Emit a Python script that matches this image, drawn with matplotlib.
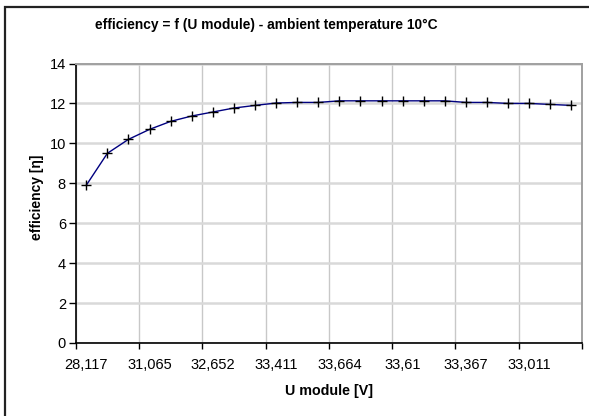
import matplotlib
matplotlib.use('Agg')
import matplotlib.pyplot as plt
from matplotlib.patches import Rectangle
import numpy as np

plt.rcParams['font.family'] = ['Liberation Sans', 'DejaVu Sans']

# U module [V] per measurement (only every 3rd label shown on the axis)
u_module = ['28,117', '29,3', '30,3', '31,065', '31,6', '32,2', '32,652', '32,95',
            '33,2', '33,411', '33,53', '33,62', '33,664', '33,68', '33,66', '33,61',
            '33,54', '33,46', '33,367', '33,25', '33,14', '33,011', '32,87', '32,72']
efficiency = [7.9, 9.5, 10.2, 10.7, 11.1, 11.37, 11.57, 11.77, 11.9, 12.02, 12.05, 12.05,
              12.13, 12.13, 12.13, 12.13, 12.13, 12.13, 12.05, 12.05, 12.0, 12.0, 11.95, 11.9]

fig = plt.figure(figsize=(5.89, 4.16), dpi=100)
ax = fig.add_axes([75.7/589, 1-343/416, (582-75.7)/589, (343-63.5)/416])

# outer chart border (cut off at right/bottom like the reference)
fig.patches.append(Rectangle((5/589, -0.05), 1.2, 1-7/416+0.05, transform=fig.transFigure,
                             fill=False, edgecolor='#222222', linewidth=1.6))

x = np.arange(len(efficiency))
ax.plot(x, efficiency, color='#000080', linewidth=1.0, marker='+', markersize=7,
        markeredgecolor='black', markeredgewidth=1.0, zorder=3)

ax.set_xlim(-0.5, len(efficiency) - 0.5)
ax.set_ylim(0, 14)
ax.set_yticks(np.arange(0, 15, 2))
ax.set_xticks(np.arange(-0.5, len(efficiency), 3))
ax.set_xticklabels([])
ax.set_xticks(x[::3], minor=True)
ax.set_xticklabels(u_module[::3], minor=True)
ax.tick_params(axis='x', which='minor', length=0, pad=11, labelsize=10.5)
ax.tick_params(axis='x', which='major', length=4, width=1, direction='out', color='black')
ax.tick_params(axis='y', length=5, width=1, direction='out', labelsize=10.5, pad=2)

ax.grid(axis='y', color='#d9d9d9', linewidth=1.8, zorder=0)
ax.grid(axis='x', which='major', color='#c8c8c8', linewidth=1.0, zorder=0)
ax.set_axisbelow(True)

for s in ['top', 'right']:
    ax.spines[s].set_color('#a0a0a0')
    ax.spines[s].set_linewidth(1.4)
for s in ['left', 'bottom']:
    ax.spines[s].set_color('black')
    ax.spines[s].set_linewidth(1.2)

fig.text(266/589, 1-25/416, 'efficiency = f (U module) - ambient temperature 10°C',
         ha='center', va='center', fontsize=9.9, fontweight='bold')
fig.text(329/589, 1-391/416, 'U module [V]', ha='center', va='center',
         fontsize=10.3, fontweight='bold')
fig.text(37/589, 1-197/416, 'efficiency [η]', ha='center', va='center', rotation=90,
         fontsize=10, fontweight='bold')

fig.savefig('out.png', dpi=100)
